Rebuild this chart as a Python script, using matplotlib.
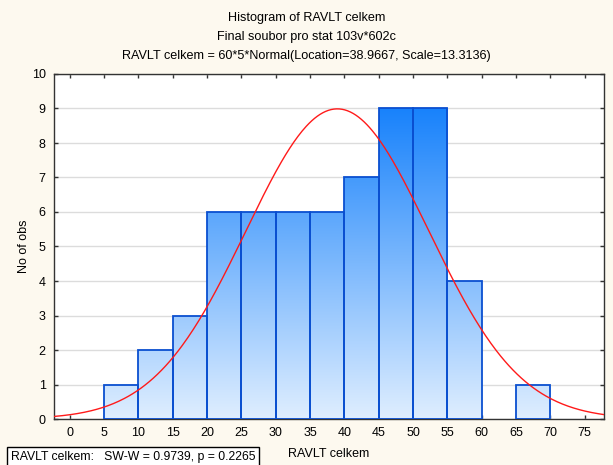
import numpy as np
import matplotlib
matplotlib.use("Agg")
import matplotlib.pyplot as plt
from matplotlib.colors import LinearSegmentedColormap
from matplotlib.patches import Rectangle

plt.rcParams['font.family'] = ['Liberation Sans', 'DejaVu Sans']

bin_edges = [5, 10, 15, 20, 25, 30, 35, 40, 45, 50, 55, 60, 65, 70]
counts = [1, 2, 3, 6, 6, 6, 6, 7, 9, 9, 4, 0, 1]
n_obs = 60
bin_width = 5
location = 38.9667
scale = 13.3136
x_ticks = list(range(0, 80, 5))
y_ticks = list(range(0, 11))

fig = plt.figure(figsize=(6.13, 4.65), dpi=100, facecolor='#fdf9ef')
ax = fig.add_axes([54/613, 1-419/465, (604-54)/613, (419-74)/465])
ax.set_facecolor('white')
ax.set_xlim(-2.3, 77.8)
ax.set_ylim(0, 10)

cmap = LinearSegmentedColormap.from_list('g', ['#dfeeff', '#1882fb'])
grad = np.linspace(0, 1, 256).reshape(-1, 1)
ymax = max(counts)
for i, c in enumerate(counts):
    if c <= 0:
        continue
    x0, x1 = bin_edges[i], bin_edges[i+1]
    im = ax.imshow(grad, cmap=cmap, origin='lower', aspect='auto',
                   extent=[x0, x1, 0, ymax], zorder=2, interpolation='bilinear')
    rect = Rectangle((x0, 0), x1 - x0, c, facecolor='none', edgecolor='#0a4fd0',
                     linewidth=1.3, zorder=3)
    ax.add_patch(rect)
    im.set_clip_path(rect)

xs = np.linspace(-2.3, 77.8, 400)
ys = n_obs * bin_width * np.exp(-0.5 * ((xs - location) / scale) ** 2) / (scale * np.sqrt(2 * np.pi))
ax.plot(xs, ys, color='#ff1a1a', linewidth=1.0, zorder=4)

ax.set_xticks(x_ticks)
ax.set_yticks(y_ticks)
ax.yaxis.grid(True, color='#dcdcdc', linewidth=1.0, zorder=0)
ax.set_axisbelow(True)
ax.tick_params(direction='in', length=3, width=1, labelsize=9, colors='#333333',
               labelcolor='black', top=True, right=True)
ax.tick_params(axis='x', pad=6)
ax.tick_params(axis='y', pad=6)
for s in ax.spines.values():
    s.set_color('#333333')
    s.set_linewidth(1.0)
ax.set_xlabel('RAVLT celkem', fontsize=9, labelpad=6)
ax.set_ylabel('No of obs', fontsize=9, labelpad=1)

fig.text(0.5, 1-18/465, 'Histogram of RAVLT celkem', ha='center', va='center', fontsize=9.1)
fig.text(0.5, 1-37/465, 'Final soubor pro stat 103v*602c', ha='center', va='center', fontsize=9.1)
fig.text(0.5, 1-56/465, 'RAVLT celkem = 60*5*Normal(Location=38.9667, Scale=13.3136)',
         ha='center', va='center', fontsize=9.1)

fig.text(11/613, 1-457/465, 'RAVLT celkem:   SW-W = 0.9739, p = 0.2265', ha='left', va='center',
         fontsize=8.8, bbox=dict(boxstyle='square,pad=0.3', facecolor='white', edgecolor='black',
                                 linewidth=1.0))

fig.savefig('out.png', dpi=100, facecolor=fig.get_facecolor())
